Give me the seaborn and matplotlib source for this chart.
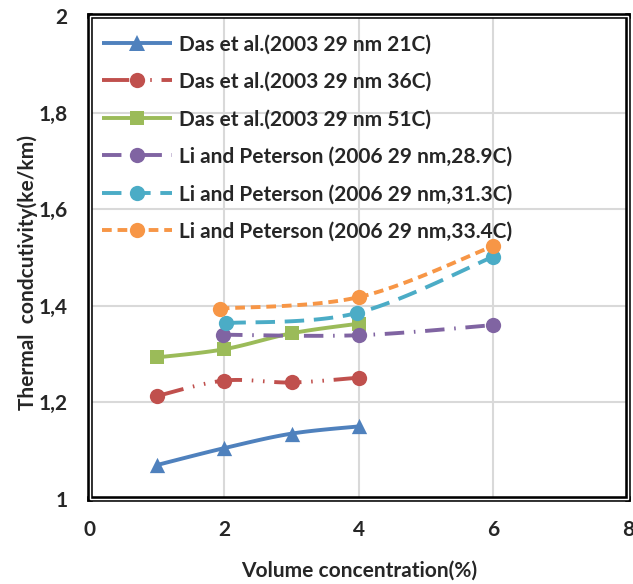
import numpy as np
import pandas as pd
import matplotlib
matplotlib.use("Agg")
import matplotlib.pyplot as plt
import seaborn as sns
from matplotlib.lines import Line2D
from matplotlib.patches import Rectangle

# ---- data ----
labels = [
    "Das et al.(2003 29 nm 21C)",
    "Das et al.(2003 29 nm 36C)",
    "Das et al.(2003 29 nm 51C)",
    "Li and Peterson (2006 29 nm,28.9C)",
    "Li and Peterson (2006 29 nm,31.3C)",
    "Li and Peterson (2006 29 nm,33.4C)",
]
das21_x = [1, 2, 3, 4]
das21_y = [1.07, 1.105, 1.135, 1.15]
das36_x = [1, 2, 3, 4]
das36_y = [1.213, 1.245, 1.241, 1.251]
das51_x = [1, 2, 3, 4]
das51_y = [1.293, 1.31, 1.343, 1.363]
li289_x = [1.98, 4, 6]
li289_y = [1.34, 1.339, 1.36]
li313_x = [2.03, 3.97, 6]
li313_y = [1.364, 1.385, 1.502]
li334_x = [1.93, 4, 6]
li334_y = [1.394, 1.418, 1.524]

x_ticks = [0, 2, 4, 6, 8]
y_ticks = [1.0, 1.2, 1.4, 1.6, 1.8, 2.0]
y_tick_labels = ["1", "1,2", "1,4", "1,6", "1,8", "2"]

series_x = [das21_x, das36_x, das51_x, li289_x, li313_x, li334_x]
series_y = [das21_y, das36_y, das51_y, li289_y, li313_y, li334_y]
colors = ["#4F81BD", "#C0504D", "#9BBB59", "#8064A2", "#4BACC6", "#F79646"]
markers = ["^", "o", "s", "o", "o", "o"]
msizes = [11, 11, 10, 11, 11, 11]
dashes = [
    (0, ()),
    (0, (7, 2.5, 0.4, 2.5, 0.4, 2.5)),
    (0, ()),
    (0, (5, 2.5, 0.4, 2.5)),
    (0, (5, 2.5)),
    (0, (2.5, 1.5)),
]

sns.set_theme(style="white")
plt.rcParams["font.family"] = ["Lato", "DejaVu Sans"]
plt.rcParams["font.weight"] = "bold"


def smooth(xs, ys, n=40):
    """Excel-style Bezier smoothing of the drawn line through the points."""
    p = np.column_stack([xs, ys]).astype(float)
    out = [p[0]]
    for i in range(len(p) - 1):
        p0 = p[i - 1] if i > 0 else p[i]
        p1 = p[i]
        p2 = p[i + 1]
        p3 = p[i + 2] if i + 2 < len(p) else p[i + 1]
        c1 = p1 + (p2 - p0) / 6.0
        c2 = p2 - (p3 - p1) / 6.0
        t = np.linspace(0, 1, n)[1:, None]
        seg = ((1 - t) ** 3) * p1 + 3 * ((1 - t) ** 2) * t * c1 + 3 * (1 - t) * t ** 2 * c2 + t ** 3 * p2
        out.extend(seg)
    out = np.array(out)
    return out[:, 0], out[:, 1]


fig = plt.figure(figsize=(6.33, 5.84), dpi=100)
ax = fig.add_axes([0.142, 0.146, 0.85, 0.826])

lw = 2.8
handles = []
for xs, ys, c, m, ms, d, lab in zip(series_x, series_y, colors, markers, msizes, dashes, labels):
    sx, sy = smooth(xs, ys)
    sns.lineplot(x=sx, y=sy, ax=ax, color=c, linewidth=lw, linestyle=d, sort=False,
                 estimator=None, legend=False)
    df = pd.DataFrame({"x": xs, "y": ys})
    sns.scatterplot(data=df, x="x", y="y", ax=ax, color=c, marker=m, s=ms ** 2,
                    edgecolor=c, linewidth=0, legend=False, zorder=5)
    handles.append(Line2D([0], [0], color=c, linewidth=lw, linestyle=d, marker=m,
                          markersize=ms, markeredgewidth=0))

ax.set_xlim(0, 8)
ax.set_ylim(1, 2)
ax.set_xticks(x_ticks)
ax.set_xticklabels([str(v) for v in x_ticks])
ax.set_yticks(y_ticks)
ax.set_yticklabels(y_tick_labels)
ax.grid(True, color="#D9D9D9", linewidth=1.5)
ax.set_axisbelow(True)
ax.tick_params(axis="x", length=0, pad=15, labelsize=15)
ax.tick_params(axis="y", length=0, pad=16, labelsize=15)
for lab in ax.get_xticklabels() + ax.get_yticklabels():
    lab.set_fontweight("bold")

for s in ax.spines.values():
    s.set_visible(True)
    s.set_color("black")
    s.set_linewidth(4)
ax.add_patch(Rectangle((0, 0), 1, 1, transform=ax.transAxes, fill=False,
                       edgecolor="white", linewidth=1, zorder=10, clip_on=False))

ax.set_xlabel("Volume concentration(%)", fontsize=15, fontweight="bold", labelpad=15)
ax.set_ylabel("Thermal  condcutivity(ke/km)", fontsize=15, fontweight="bold")
ax.yaxis.set_label_coords(-0.097, 0.47)

leg = ax.legend(handles, labels, loc="upper left", frameon=False, fontsize=15,
                handlelength=3.35, handletextpad=0.38, labelspacing=0.84,
                borderaxespad=0.0, borderpad=0.0, bbox_to_anchor=(0.022, 0.963))
for t in leg.get_texts():
    t.set_fontweight("bold")

fig.savefig("out.png", dpi=100)
